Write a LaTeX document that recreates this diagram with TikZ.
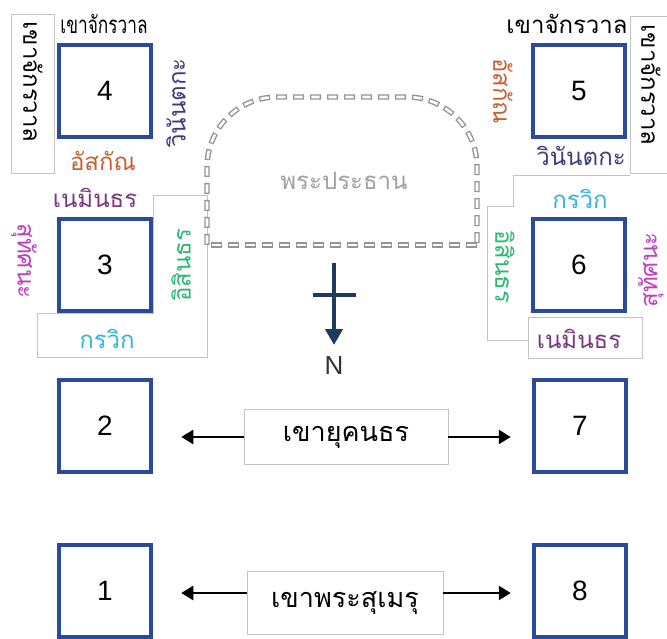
\documentclass[tikz,border=0pt]{standalone}
\usepackage{fontspec}
\setmainfont{Liberation Sans}
\newfontfamily\thfont[Script=Thai]{Loma}
\usetikzlibrary{arrows.meta}
\definecolor{boxblue}{RGB}{43,74,155}
\definecolor{cAsak}{RGB}{197,97,47}
\definecolor{cWinan}{RGB}{63,60,126}
\definecolor{cNemin}{RGB}{123,54,128}
\definecolor{cSuthat}{RGB}{192,63,191}
\definecolor{cIsin}{RGB}{46,184,114}
\definecolor{cKarawik}{RGB}{51,181,224}
\definecolor{cPhra}{RGB}{160,160,160}
\definecolor{cNorth}{RGB}{30,58,95}
\definecolor{frameGray}{RGB}{195,195,195}
\begin{document}
\begin{tikzpicture}[x=1pt,y=-1pt,
  sq/.style={draw=boxblue, line width=4.5pt, fill=white, minimum size=92pt, inner sep=0pt, font=\fontsize{28}{30}\selectfont},
  lb/.style={font=\thfont\fontsize{24}{28}\selectfont, inner sep=0pt},
  frm/.style={draw=frameGray, line width=0.8pt, fill=white},
  lbox/.style={draw=frameGray, line width=0.8pt, fill=white, minimum width=204pt, minimum height=55pt, inner sep=0pt, font=\thfont\fontsize{27}{30}\selectfont},
  arr/.style={line width=2.4pt, -{Triangle[length=12pt,width=14pt]}},
  domeout/.style={draw=black!42, line width=5.4pt, dash pattern=on 11pt off 6pt},
  domein/.style={draw=white, line width=2.6pt, dash pattern=on 8.4pt off 8.6pt, dash phase=-1.3pt},
]
\useasboundingbox (0,0) rectangle (667,639);
\fill[white] (0,0) rectangle (667,639);

% frames / label boxes
\draw[frm] (11,14) rectangle (54,173);
\draw[frm] (630,16) rectangle (690,173);
\draw[frm] (153,195) -- (207,195) -- (207,357) -- (37,357) -- (37,313) -- (153,313) -- cycle;
\draw[frm] (630,175) -- (513,175) -- (513,206) -- (487,206) -- (487,340) -- (528,340);
\draw[frm] (528,317) rectangle (642,358);

% dome of the main Buddha image
\draw[domeout, rounded corners=70pt] (207,245) -- (207,97) -- (477,97) -- (477,245);
\draw[domein, rounded corners=70pt] (207,245) -- (207,97) -- (477,97) -- (477,245);
\draw[domeout] (477,245) -- (207,245);
\draw[domein] (477,245) -- (207,245);
\node[lb, text=cPhra] (phra) at (344,181) {พระประธาน};

% squares
\node[sq] (b4) at (105,91) {4};
\node[sq] (b3) at (105,265) {3};
\node[sq] (b2) at (105,426) {2};
\node[sq] (b1) at (105,591) {1};
\node[sq] (b5) at (579,91) {5};
\node[sq] (b6) at (579,265) {6};
\node[sq] (b7) at (580,426) {7};
\node[sq] (b8) at (580,591) {8};

% labels around 4
\node[lb] (t4) at (104,24) {\scalebox{0.72}[1]{เขาจักรวาล}};
\node[lb, rotate=-90] (l4) at (33,82) {เขาจักรวาล};
\node[lb, text=cAsak] (d4) at (103,161) {อัสกัณ};
\node[lb, text=cWinan, rotate=90] (r4) at (176,103) {วินันตกะ};

% labels around 3
\node[lb, text=cNemin] (t3) at (95,198) {เนมินธร};
\node[lb, text=cSuthat, rotate=-90] (l3) at (24,261) {สุทัศนะ};
\node[lb, text=cIsin, rotate=90] (r3) at (181,265) {อิสินธร};
\node[lb, text=cKarawik] (d3) at (107,339) {กรวิก};

% labels around 5
\node[lb] (t5) at (567,24) {เขาจักรวาล};
\node[lb, rotate=-90] (r5) at (651,85) {เขาจักรวาล};
\node[lb, text=cAsak, rotate=-90] (l5) at (503,91) {อัสกัณ};
\node[lb, text=cWinan] (d5) at (581,156) {วินันตกะ};

% labels around 6
\node[lb, text=cKarawik] (t6) at (580,199) {กรวิก};
\node[lb, text=cIsin, rotate=-90] (l6) at (505,267) {อิสินธร};
\node[lb, text=cSuthat, rotate=90] (r6) at (651,270) {สุทัศนะ};
\node[lb, text=cNemin] (d6) at (579,339) {เนมินธร};

% north arrow
\coordinate (nTop) at (334,263);
\coordinate (nTip) at (334,345);
\coordinate (cL) at (313,295);
\coordinate (cR) at (356,295);
\draw[cNorth, line width=4pt, -{Triangle[length=16pt,width=17pt]}] (nTop) -- (nTip);
\draw[cNorth, line width=4pt] (cL) -- (cR);
\node[font=\fontsize{26}{28}\selectfont, text=black!80, inner sep=0pt] (north) at (334,366) {N};

% mountain labels with arrows
\node[lbox] (yk) at (346,437) {เขายุคนธร};
\node[lbox, minimum width=196pt, minimum height=63pt] (sm) at (345,603) {เขาพระสุเมรุ};
\coordinate (smW) at (247,593);
\coordinate (smE) at (443,593);
\draw[arr, shorten >=28pt] (yk.west) -- (yk.west -| b2.east);
\draw[arr, shorten >=21pt] (yk.east) -- (yk.east -| b7.west);
\draw[arr, shorten >=28pt] (smW) -- (smW -| b1.east);
\draw[arr, shorten >=21pt] (smE) -- (smE -| b8.west);
\end{tikzpicture}
\end{document}
